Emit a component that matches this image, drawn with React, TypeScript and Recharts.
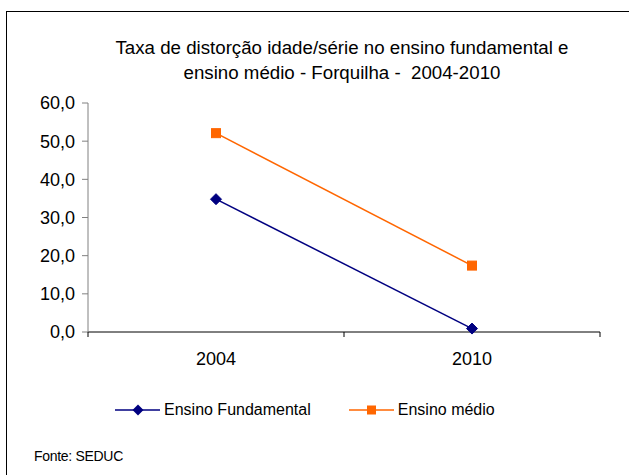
import React from "react";
import { LineChart, Line, XAxis, YAxis } from "recharts";

const years = ["2004", "2010"];
const ensinoFundamental = [34.8, 0.9];
const ensinoMedio = [52.1, 17.4];
const yTicks = [0, 10, 20, 30, 40, 50, 60];

const titleLines = [
  "Taxa de distorção idade/série no ensino fundamental e",
  "ensino médio - Forquilha -  2004-2010",
];
const sourceNote = "Fonte: SEDUC";

const NAVY = "#000080";
const ORANGE = "#FF6600";
const FONT = "'Liberation Sans', Arial, sans-serif";

// each year sits in the middle of its own category slot on the x axis
const data = years.map((y, i) => ({
  pos: i + 0.5,
  year: y,
  fund: ensinoFundamental[i],
  medio: ensinoMedio[i],
}));
const xTicks = [0, ...data.flatMap((d, i) => [d.pos, i + 1])];

const fmt = (v: number) => v.toFixed(1).replace(".", ",");

const XTick = (props: any) => {
  const { x, y, payload } = props;
  const v = payload.value;
  const d = data.find((e) => Math.abs(e.pos - v) < 1e-6);
  if (d) {
    return (
      <text
        x={x}
        y={y + 33}
        textAnchor="middle"
        fill="#000"
        fontSize={18}
        fontFamily={FONT}
      >
        {d.year}
      </text>
    );
  }
  return <line x1={x} y1={y} x2={x} y2={y + 5} stroke="#000" strokeWidth={1} />;
};

const Diamond = (props: any) => {
  const { cx, cy, index } = props;
  if (cx == null || cy == null) return <g key={`d-${index}`} />;
  const r = 5.5;
  return (
    <polygon
      key={`d-${index}`}
      points={`${cx},${cy - r} ${cx + r},${cy} ${cx},${cy + r} ${cx - r},${cy}`}
      fill={NAVY}
      stroke={NAVY}
    />
  );
};

const Square = (props: any) => {
  const { cx, cy, index } = props;
  if (cx == null || cy == null) return <g key={`s-${index}`} />;
  const r = 4.5;
  return (
    <rect
      key={`s-${index}`}
      x={cx - r}
      y={cy - r}
      width={2 * r}
      height={2 * r}
      fill={ORANGE}
      stroke={ORANGE}
    />
  );
};

const legendItems = [
  { label: "Ensino Fundamental", color: NAVY, shape: "diamond" },
  { label: "Ensino médio", color: ORANGE, shape: "square" },
];

const LegendBox = () => (
  <div
    style={{
      position: "absolute",
      top: 402,
      left: 0,
      width: 629,
      display: "flex",
      alignItems: "center",
      paddingLeft: 115,
      gap: 38,
      fontFamily: FONT,
      fontSize: 16,
      color: "#000",
    }}
  >
    {legendItems.map((it) => (
      <div key={it.label} style={{ display: "flex", alignItems: "center" }}>
        <svg width={45} height={14} style={{ marginRight: 4 }}>
          <line x1={0} y1={7} x2={45} y2={7} stroke={it.color} strokeWidth={1.5} />
          {it.shape === "diamond" ? (
            <polygon points="23,1.5 28.5,7 23,12.5 17.5,7" fill={it.color} />
          ) : (
            <rect x={18} y={2.5} width={9} height={9} fill={it.color} />
          )}
        </svg>
        <span style={{ lineHeight: "16px" }}>{it.label}</span>
      </div>
    ))}
  </div>
);

export default function App() {
  return (
    <div
      style={{
        position: "absolute",
        left: 0,
        top: 0,
        width: 629,
        height: 475,
        overflow: "hidden",
        background: "#fff",
      }}
    >
      <div
        style={{
          position: "absolute",
          left: 6,
          top: 11,
          width: 700,
          height: 600,
          borderTop: "1px solid #000",
          borderLeft: "1px solid #000",
        }}
      />
      <div
        style={{
          position: "absolute",
          left: 92,
          width: 500,
          top: 35,
          fontFamily: FONT,
          fontSize: 18.7,
          lineHeight: "25px",
          color: "#000",
          whiteSpace: "pre",
          display: "flex",
          flexDirection: "column",
          alignItems: "center",
        }}
      >
        {titleLines.map((t) => (
          <div key={t}>{t}</div>
        ))}
      </div>
      <div
        style={{
          position: "absolute",
          left: 34,
          top: 447,
          fontFamily: FONT,
          fontSize: 14,
          letterSpacing: -0.3,
          lineHeight: "18px",
          color: "#000",
        }}
      >
        {sourceNote}
      </div>
      <LegendBox />
      <LineChart
        width={629}
        height={475}
        data={data}
        margin={{ top: 103, right: 29, bottom: 113, left: 28 }}
        style={{ position: "absolute", left: 0, top: 0 }}
      >
        <XAxis
          dataKey="pos"
          type="number"
          domain={[0, years.length]}
          ticks={xTicks}
          interval={0}
          height={30}
          tickSize={0}
          tickMargin={0}
          tickLine={false}
          axisLine={{ stroke: "#000", strokeWidth: 1 }}
          tick={<XTick />}
        />
        <YAxis
          domain={[0, 60]}
          ticks={yTicks}
          width={60}
          tickFormatter={fmt}
          tickSize={6}
          tickMargin={7}
          axisLine={{ stroke: "#808080", strokeWidth: 1 }}
          tickLine={{ stroke: "#808080", strokeWidth: 1 }}
          tick={{ fill: "#000", fontSize: 18, fontFamily: FONT }}
        />
        <Line
          dataKey="medio"
          name="Ensino médio"
          stroke={ORANGE}
          strokeWidth={1.5}
          dot={Square}
          isAnimationActive={false}
        />
        <Line
          dataKey="fund"
          name="Ensino Fundamental"
          stroke={NAVY}
          strokeWidth={1.5}
          dot={Diamond}
          isAnimationActive={false}
        />
      </LineChart>
    </div>
  );
}
